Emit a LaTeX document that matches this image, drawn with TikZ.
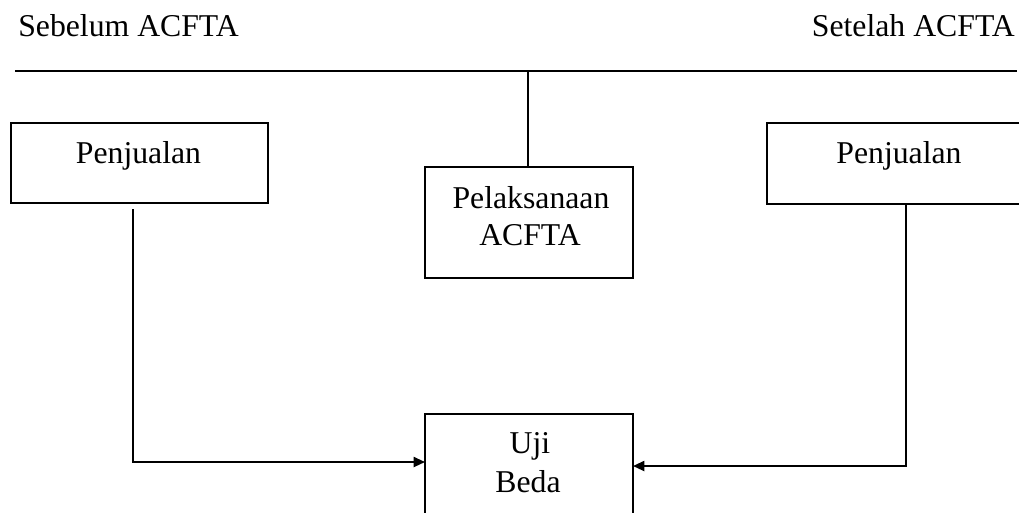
\documentclass[tikz,border=0pt]{standalone}
\usepackage{fontspec}
\setmainfont{Liberation Serif}
\usetikzlibrary{arrows.meta}
\begin{document}
\begin{tikzpicture}[x=0.75pt,y=-0.75pt,
  box/.style={draw, line width=1.5pt, inner sep=0pt, outer sep=0pt},
  ln/.style={line width=1.5pt},
  arr/.style={line width=1.5pt, -{Triangle[length=8.5pt,width=7.5pt]}},
  txt/.style={font=\fontsize{23.8}{28}\selectfont, inner sep=0pt, anchor=base}]
\useasboundingbox (0,0) rectangle (1019,512);
\clip (0,0) rectangle (1019,512);
% headings
\node[txt, anchor=base west] (hl) at (18,36) {Sebelum ACFTA};
\node[txt, anchor=base east] (hr) at (1015,36) {Setelah ACFTA};
% top line
\coordinate (tl) at (15,70.7);
\coordinate (tr) at (1017,70.7);
\draw[ln] (tl) -- (tr);
% boxes
\node[box, minimum width=192.75pt, minimum height=60pt] (pl) at (139.5,163) {};
\node[box, minimum width=204.75pt, minimum height=60.75pt] (pr) at (903.5,163.5) {};
\node[box, minimum width=156pt, minimum height=83.25pt] (pel) at (529,222.5) {};
\node[box, minimum width=156pt, minimum height=94.5pt] (uji) at (529,477) {};
% texts
\node[txt] (tpl) at (138.5,163) {Penjualan};
\node[txt] (tpr) at (899,163) {Penjualan};
\node[txt] (tpel1) at (531,208) {Pelaksanaan};
\node[txt] (tpel2) at (530,245) {ACFTA};
\node[txt] (tuji1) at (530,453) {Uji};
\node[txt] (tuji2) at (528,492) {Beda};
% connectors
\draw[ln] ([xshift=-1pt]pel.north) -- ([xshift=-1pt]pel.north |- tl);
\coordinate (l1) at (133,209);
\coordinate (l2) at (133,462);
\draw[arr] (l1) -- (l2) -- (uji.west |- l2);
\coordinate (r1) at (906,204);
\coordinate (r2) at (906,466);
\draw[arr] (r1) -- (r2) -- (uji.east |- r2);
\end{tikzpicture}
\end{document}
